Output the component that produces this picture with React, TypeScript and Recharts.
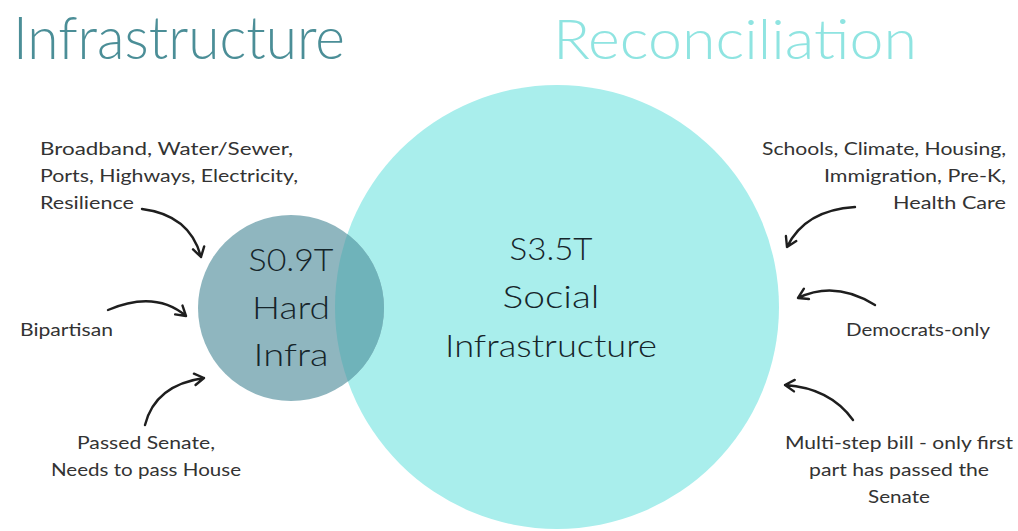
import { Customized, Scatter, ScatterChart, XAxis, YAxis, ZAxis } from "recharts";

// two spending packages, amounts in trillions of dollars
const programs = ["Infrastructure", "Reconciliation"];
const packageAmounts = [0.9, 3.5];
const packageLabels = [
  ["S0.9T", "Hard", "Infra"],
  ["S3.5T", "Social", "Infrastructure"],
];
// venn centres (chart units = pixels)
const vennX = [291, 557];
const vennY = [308, 307];

const leftNotes = [
  ["Broadband, Water/Sewer,", "Ports, Highways, Electricity,", "Resilience"],
  ["Bipartisan"],
  ["Passed Senate,", "Needs to pass House"],
];
const rightNotes = [
  ["Schools, Climate, Housing,", "Immigration, Pre-K,", "Health Care"],
  ["Democrats-only"],
  ["Multi-step bill - only first", "part has passed the", "Senate"],
];

const W = 1018;
const H = 531;
const FONT = "Lato, sans-serif";
const TEXT = "#333";

const fills = ["#8fb6bf", "#a9eeec"];
const overlapFill = "#6fb3ba";
const titleColors = ["#4b8e97", "#8fe4e1"];

const rows = programs.map((p, i) => ({
  name: p,
  x: vennX[i],
  y: vennY[i],
  z: packageAmounts[i],
  lines: packageLabels[i],
  idx: i,
}));

// centre label layout: baseline offsets from centre, line widths
const labelBase = [
  [-37, 11, 58],
  [-47, 1, 50],
];
const labelWidth = [
  [85, 78, 75],
  [83, 97, 212],
];

function CircleShape(props: any) {
  const { cx, cy, size, payload } = props;
  const r = Math.sqrt(size / Math.PI);
  const i = payload.idx;
  const big = i === 1;
  const dx = big ? -6 : 0;
  return (
    <g>
      {big && (
        <defs>
          <clipPath id="bigClip">
            <circle cx={cx} cy={cy} r={r} />
          </clipPath>
        </defs>
      )}
      <circle cx={cx} cy={cy} r={r} fill={fills[i]} />
      {!big && <circle cx={cx} cy={cy} r={r} fill={overlapFill} clipPath="url(#bigClip)" />}
      {payload.lines.map((t: string, k: number) => (
        <text
          key={t}
          x={cx + dx}
          y={cy + labelBase[i][k]}
          textAnchor="middle"
          fontFamily={FONT}
          fontWeight={300}
          fontSize={32}
          fill="#16252a"
          textLength={labelWidth[i][k]}
          lengthAdjust="spacingAndGlyphs"
        >
          {t}
        </text>
      ))}
    </g>
  );
}

function arrow(sx: number, sy: number, qx: number, qy: number, ex: number, ey: number) {
  const a = Math.atan2(ey - qy, ex - qx);
  const len = 11;
  const h1x = ex - len * Math.cos(a - 0.55);
  const h1y = ey - len * Math.sin(a - 0.55);
  const h2x = ex - len * Math.cos(a + 0.55);
  const h2y = ey - len * Math.sin(a + 0.55);
  return `M${sx},${sy} Q${qx},${qy} ${ex},${ey} M${h1x},${h1y} L${ex},${ey} L${h2x},${h2y}`;
}

const arrows = [
  [142, 209, 190, 215, 201, 257],
  [108, 310, 155, 290, 186, 316],
  [145, 425, 155, 385, 204, 378],
  [855, 207, 805, 210, 787, 247],
  [875, 305, 835, 280, 798, 298],
  [853, 420, 830, 388, 785, 385],
];

// note layout: [x, anchor, baselines, textLength per line]
const leftLayout: [number, string, number[], number[]][] = [
  [40, "start", [155, 182, 209], [253, 258, 94]],
  [20, "start", [336], [93]],
  [146, "middle", [449, 476], [138, 190]],
];
const rightLayout: [number, string, number[], number[]][] = [
  [1006, "end", [155, 182, 209], [244, 182, 113]],
  [918, "middle", [336], [144]],
  [899, "middle", [449, 476, 503], [228, 180, 62]],
];

function Notes() {
  const blocks = [
    ...leftNotes.map((n, i) => ({ lines: n, lay: leftLayout[i] })),
    ...rightNotes.map((n, i) => ({ lines: n, lay: rightLayout[i] })),
  ];
  return (
    <g>
      <text x={13} y={59} fontFamily={FONT} fontWeight={300} fontSize={60} fill={titleColors[0]} textLength={332} lengthAdjust="spacingAndGlyphs">
        {programs[0]}
      </text>
      <text x={553} y={59} fontFamily={FONT} fontWeight={300} fontSize={55} fill={titleColors[1]} textLength={364} lengthAdjust="spacingAndGlyphs">
        {programs[1]}
      </text>
      {blocks.map((b, i) =>
        b.lines.map((t, k) => (
          <text
            key={`${i}-${k}`}
            x={b.lay[0]}
            y={b.lay[2][k]}
            textAnchor={b.lay[1] as any}
            fontFamily={FONT}
            fontSize={18}
            fill={TEXT}
            textLength={b.lay[3][k]}
            lengthAdjust="spacingAndGlyphs"
          >
            {t}
          </text>
        ))
      )}
      {arrows.map((a, i) => (
        <path key={i} d={arrow(a[0], a[1], a[2], a[3], a[4], a[5])} fill="none" stroke="#1e1e1e" strokeWidth={2.4} strokeLinecap="round" strokeLinejoin="round" />
      ))}
    </g>
  );
}

export default function App() {
  return (
    <div style={{ position: "absolute", left: 0, top: 0, width: W, height: H, background: "#fff" }}>
      <ScatterChart width={W} height={H} margin={{ top: 0, right: 0, bottom: 0, left: 0 }}>
        <XAxis type="number" dataKey="x" domain={[0, W]} hide />
        <YAxis type="number" dataKey="y" domain={[0, H]} reversed hide />
        <ZAxis type="number" dataKey="z" domain={[0.9, 3.5]} range={[Math.PI * 93 * 93, Math.PI * 222 * 222]} />
        <Scatter data={[rows[1]]} shape={CircleShape} isAnimationActive={false} />
        <Scatter data={[rows[0]]} shape={CircleShape} isAnimationActive={false} />
        <Customized component={Notes} />
      </ScatterChart>
    </div>
  );
}
